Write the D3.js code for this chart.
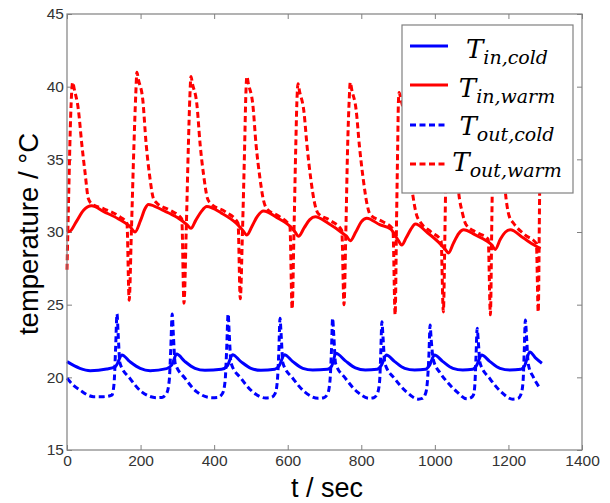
<!DOCTYPE html>
<html>
<head>
<meta charset="utf-8">
<script src="https://cdn.jsdelivr.net/npm/d3@7"></script>
<style>
body { margin: 0; background: #fff; }
</style>
</head>
<body>
<script>
// values: [t in sec, temperature in °C]
var tInCold = [
    [0, 21.08], [35, 20.62], [63, 20.46], [108, 20.57], [131, 20.73], [136, 20.9], [149, 21.54],
    [171, 21.08], [199, 20.62], [226, 20.46], [271, 20.6], [285, 20.85], [298, 21.6],
    [320, 21.1], [348, 20.62], [375, 20.48], [420, 20.55], [436, 20.8], [450, 21.55],
    [472, 21.1], [500, 20.62], [527, 20.48], [565, 20.55], [577, 20.8], [591, 21.55],
    [613, 21.1], [641, 20.62], [668, 20.5], [708, 20.55], [720, 20.8], [731, 21.65],
    [756, 21.15], [784, 20.65], [811, 20.5], [843, 20.55], [854, 20.8], [868, 21.54],
    [890, 21.1], [918, 20.62], [945, 20.5], [975, 20.55], [985, 20.8], [999, 21.54],
    [1021, 21.1], [1049, 20.62], [1076, 20.5], [1103, 20.55], [1113, 20.8], [1127, 21.54],
    [1149, 21.1], [1177, 20.62], [1204, 20.5], [1234, 20.55], [1244, 20.8], [1258, 21.75],
    [1275, 21.3], [1291, 20.97]
];

var tInWarm = [
    [0, 30.0], [8, 30.05], [25, 30.7], [45, 31.5], [67, 31.8], [100, 31.4], [140, 30.9],
    [170, 30.4], [185, 30.0], [200, 30.8], [212, 31.6], [221, 31.9], [260, 31.5], [300, 31.0],
    [326, 30.5], [337, 30.25], [350, 30.8], [365, 31.4], [380, 31.75], [420, 31.3], [460, 30.6],
    [478, 30.1], [489, 29.8], [503, 30.4], [518, 31.1], [534, 31.45], [570, 31.0], [610, 30.3],
    [620, 30.0], [629, 29.7], [645, 30.3], [660, 30.85], [675, 31.05], [710, 30.6], [750, 29.9],
    [760, 29.7], [770, 29.4], [785, 30.0], [800, 30.7], [815, 30.95], [850, 30.5], [880, 30.2],
    [900, 29.45], [910, 29.1], [922, 29.6], [935, 30.2], [947, 30.55], [980, 29.95], [1010, 29.3],
    [1030, 28.75], [1037, 28.55], [1050, 29.2], [1065, 29.9], [1078, 30.15], [1110, 29.8],
    [1140, 29.4], [1155, 29.1], [1164, 28.8], [1178, 29.5], [1192, 30.0], [1205, 30.15],
    [1240, 29.6], [1270, 29.1], [1287, 28.85]
];

var tOutCold = [
    [0, 19.93], [17, 19.47], [35, 19.13], [72, 18.67], [99, 18.67], [122, 18.78], [128, 19.6],
    [132, 21.9], [136, 24.36], [139, 23.0], [144, 20.97], [171, 19.93], [203, 19.0], [244, 18.6],
    [258, 18.62], [271, 18.9], [278, 19.8], [282, 21.9], [286, 24.36], [289, 23.0], [294, 20.97],
    [321, 19.93], [353, 19.0], [394, 18.6], [410, 18.62], [423, 18.9], [430, 19.8], [434, 21.9],
    [438, 24.36], [441, 23.0], [446, 20.97], [473, 19.93], [505, 19.0], [540, 18.58], [555, 18.62],
    [566, 18.9], [572, 19.8], [576, 21.9], [579, 24.06], [582, 23.0], [587, 20.97], [614, 19.93],
    [646, 19.0], [683, 18.56], [698, 18.6], [709, 18.9], [715, 19.8], [719, 21.9], [722, 24.06],
    [725, 23.0], [730, 20.97], [757, 19.93], [789, 19.0], [822, 18.56], [834, 18.6], [844, 18.9],
    [850, 19.8], [853, 21.7], [856, 23.83], [859, 22.8], [864, 20.97], [891, 19.9], [923, 19.0],
    [955, 18.5], [966, 18.55], [975, 18.9], [980, 19.8], [984, 21.6], [987, 23.6], [990, 22.6],
    [996, 21.2], [1015, 20.28], [1033, 19.7], [1060, 19.0], [1087, 18.52], [1098, 18.6],
    [1105, 18.8], [1109, 19.6], [1112, 21.5], [1115, 23.37], [1118, 22.5], [1123, 20.97],
    [1150, 19.9], [1180, 19.0], [1212, 18.5], [1226, 18.55], [1235, 18.9], [1240, 19.8],
    [1243, 21.8], [1246, 23.94], [1249, 22.9], [1254, 20.9], [1268, 20.0], [1283, 19.35]
];

var tOutWarm = [
    [0, 27.4], [5, 33], [10, 38], [15.5, 40.3], [20, 39.8], [31, 38.4], [40, 36.1], [49, 34.1],
    [58, 32.3], [67, 31.95], [100, 31.6], [140, 31.1], [163, 30.6], [169, 25.3],
    [175, 30], [182, 36], [187, 39.5], [190, 41.0], [194, 40.5], [206, 39.1], [215, 36.1],
    [225, 33.8], [235, 32.3], [244, 32.0], [280, 31.5], [312, 30.9], [318, 25.1],
    [324, 30], [330, 36], [334, 39.3], [337, 40.7], [341, 40.2], [353, 38.8], [362, 36],
    [372, 33.8], [382, 32.3], [391, 31.95], [430, 31.4], [465, 30.6], [471, 25.4],
    [477, 30], [483, 36], [486, 39.3], [489, 40.7], [493, 40.2], [505, 38.8], [514, 36],
    [524, 33.8], [534, 32.2], [543, 31.6], [575, 31.1], [606, 30.4], [612, 24.7],
    [617, 30], [622, 36], [625, 39], [628, 40.2], [632, 39.7], [644, 38.3], [653, 35.8],
    [663, 33.6], [673, 32], [682, 31.3], [715, 30.8], [747, 30.1], [753, 25.0],
    [758, 30], [763, 36], [767, 39], [770, 40.3], [774, 39.8], [786, 38.4], [795, 35.9],
    [805, 33.7], [815, 32], [824, 31.2], [855, 30.75], [886, 30.2], [892, 24.3],
    [896, 31], [899, 36], [901, 39], [903, 39.6], [907, 39.2], [918, 37.8], [928, 35],
    [938, 32.9], [950, 31.2], [960, 30.7], [990, 30.0], [1017, 29.4], [1023, 24.5],
    [1028, 31], [1031, 36], [1033, 38.8], [1036, 39.5], [1040, 39.1], [1050, 37.5], [1057, 35.2],
    [1064, 32.9], [1075, 31.3], [1085, 30.5], [1115, 29.95], [1145, 29.5], [1151, 24.3],
    [1155, 31], [1158, 36], [1161, 38.8], [1163, 39.5], [1167, 39.1], [1177, 37.5], [1184, 35.2],
    [1191, 32.9], [1202, 31.1], [1214, 30.6], [1245, 29.8], [1276, 29.2], [1281, 24.5],
    [1285, 33], [1288, 38]
];

var xTicks = [0, 200, 400, 600, 800, 1000, 1200, 1400];
var yTicks = [15, 20, 25, 30, 35, 40, 45];
var legendSubs = ['in,cold', 'in,warm', 'out,cold', 'out,warm'];

var width = 610,
    height = 503;

var plotLeft = 67, plotRight = 582, plotTop = 14, plotBottom = 450;

var series = [
    { 'data': tInCold, 'color': '#0000ff', 'dash': null },
    { 'data': tInWarm, 'color': '#ff0000', 'dash': null },
    { 'data': tOutCold, 'color': '#0000ff', 'dash': '6,3.5' },
    { 'data': tOutWarm, 'color': '#ff0000', 'dash': '6,3.5' }
];

var svg = d3.select('body')
    .append('svg')
    .attr('width', width)
    .attr('height', height)
    .style('font-family', 'Liberation Sans, Arial, sans-serif');

var x = d3.scaleLinear().domain([0, 1400]).range([plotLeft, plotRight]);
var y = d3.scaleLinear().domain([15, 45]).range([plotBottom, plotTop]);

var tickColor = '#808080';

function styleAxis(g) {
    g.select('.domain').remove();
    g.selectAll('.tick line').attr('stroke', tickColor);
    g.selectAll('.tick text')
        .attr('fill', '#333')
        .style('font-family', 'Liberation Sans, Arial, sans-serif')
        .style('font-size', '15.5px');
}

svg.append('g')
    .attr('transform', 'translate(0,' + plotBottom + ')')
    .call(d3.axisBottom(x).tickValues(xTicks).tickFormat(d3.format('d'))
        .tickSizeInner(-5).tickSizeOuter(0).tickPadding(5))
    .call(styleAxis);

svg.append('g')
    .attr('transform', 'translate(0,' + plotTop + ')')
    .call(d3.axisTop(x).tickValues(xTicks).tickSizeInner(-5).tickSizeOuter(0).tickFormat(''))
    .call(styleAxis);

svg.append('g')
    .attr('transform', 'translate(' + plotLeft + ',0)')
    .call(d3.axisLeft(y).tickValues(yTicks).tickFormat(d3.format('d'))
        .tickSizeInner(-5).tickSizeOuter(0).tickPadding(3))
    .call(styleAxis);

svg.append('g')
    .attr('transform', 'translate(' + plotRight + ',0)')
    .call(d3.axisRight(y).tickValues(yTicks).tickSizeInner(-5).tickSizeOuter(0).tickFormat(''))
    .call(styleAxis);

var line = d3.line()
    .x(function (d) { return x(d[0]); })
    .y(function (d) { return y(d[1]); })
    .curve(d3.curveMonotoneX);

svg.selectAll('path.series')
    .data(series)
    .enter()
    .append('path')
    .attr('class', 'series')
    .attr('d', function (d) { return line(d.data); })
    .attr('fill', 'none')
    .attr('stroke', function (d) { return d.color; })
    .attr('stroke-width', 3)
    .attr('stroke-dasharray', function (d) { return d.dash; });

// frame
svg.append('rect')
    .attr('x', plotLeft)
    .attr('y', plotTop)
    .attr('width', plotRight - plotLeft)
    .attr('height', plotBottom - plotTop)
    .attr('fill', 'none')
    .attr('stroke', tickColor)
    .attr('stroke-width', 1.2);

// axis titles
svg.append('text')
    .attr('x', 327)
    .attr('y', 497)
    .attr('text-anchor', 'middle')
    .style('font-size', '27px')
    .text('t / sec');

svg.append('text')
    .attr('transform', 'translate(38,234) rotate(-90)')
    .attr('text-anchor', 'middle')
    .style('font-size', '27.5px')
    .text('temperature / °C');

// legend
var legend = svg.append('g');

legend.append('rect')
    .attr('x', 402)
    .attr('y', 25)
    .attr('width', 171)
    .attr('height', 168)
    .attr('fill', '#fff')
    .attr('stroke', tickColor)
    .attr('stroke-width', 1.2);

var rowY = [46, 85, 125, 164];
var textY = [58, 97, 135, 171];

legend.selectAll('line')
    .data(series)
    .enter()
    .append('line')
    .attr('x1', 410)
    .attr('x2', 448)
    .attr('y1', function (d, i) { return rowY[i]; })
    .attr('y2', function (d, i) { return rowY[i]; })
    .attr('stroke', function (d) { return d.color; })
    .attr('stroke-width', 3)
    .attr('stroke-dasharray', function (d) { return d.dash; });

var labels = legend.selectAll('text')
    .data(legendSubs)
    .enter()
    .append('text')
    .attr('x', 507)
    .attr('y', function (d, i) { return textY[i]; })
    .attr('text-anchor', 'middle')
    .style('font-family', 'DejaVu Serif, serif')
    .style('font-style', 'italic');

labels.append('tspan')
    .style('font-size', '26px')
    .text('T');

labels.append('tspan')
    .attr('dy', 6)
    .style('font-size', '19px')
    .text(function (d) { return d; });
</script>
</body>
</html>
